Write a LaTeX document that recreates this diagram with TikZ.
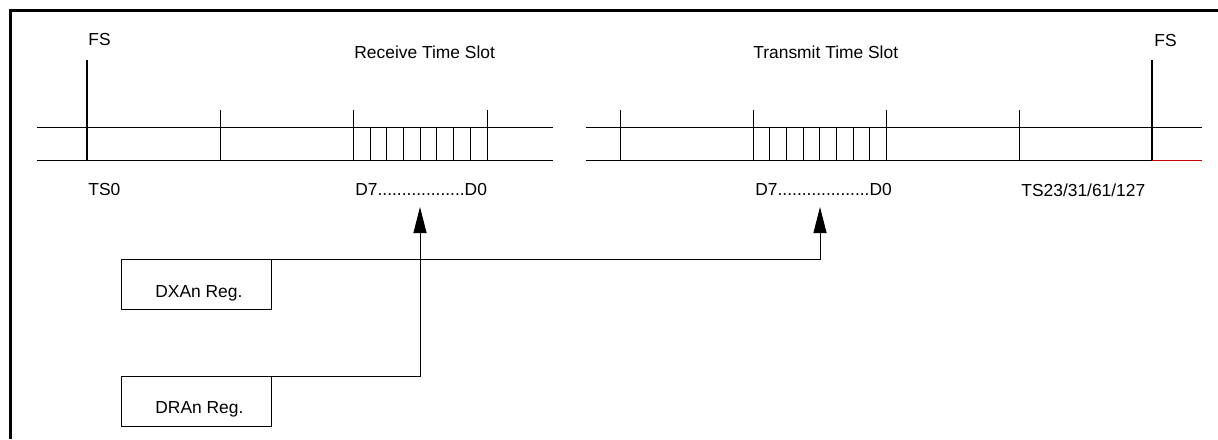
\documentclass[tikz,border=0pt]{standalone}
\usepackage{fontspec}
\setmainfont{Liberation Sans}
\usetikzlibrary{arrows.meta}
\begin{document}
\begin{tikzpicture}[x=0.5pt,y=-0.5pt,
  thin line/.style={line width=0.5pt},
  fsline/.style={line width=1pt},
  lbl/.style={inner sep=0pt,anchor=base west,font=\fontsize{8.7}{10}\selectfont},
  regbox/.style={draw,line width=0.5pt,minimum width=75pt,minimum height=25pt,inner sep=0pt,anchor=north west},
  arr/.style={line width=0.5pt,-{Triangle[width=6.5pt,length=13pt]}}]
\useasboundingbox (0,0) rectangle (1218,439);
% frame
\draw[line width=1.75pt] (10.5,439) -- (10.5,10.5) -- (1218,10.5);
% left timeline
\draw[thin line] (37,127) -- (553,127);
\draw[thin line] (37,160) -- (553,160);
\draw[fsline] (87,60) -- (87,160);
\draw[thin line] (220,110) -- (220,160);
\draw[thin line] (353,110) -- (353,160);
\draw[thin line] (487,110) -- (487,160);
\foreach \x in {370,386.7,403.3,420,436.7,453.3,470} \draw[thin line] (\x,127) -- (\x,160);
% right timeline
\draw[thin line] (586,127) -- (1202,127);
\draw[thin line] (586,160) -- (1152,160);
\draw[line width=0.5pt,red!80!black] (1152,160) -- (1202,160);
\draw[thin line] (620,110) -- (620,160);
\draw[thin line] (753,110) -- (753,160);
\draw[thin line] (886,110) -- (886,160);
\foreach \x in {769.6,786.3,803,819.6,836.3,853,869.6} \draw[thin line] (\x,127) -- (\x,160);
\draw[thin line] (1019,110) -- (1019,160);
\draw[fsline] (1152,60) -- (1152,160);
% labels
\node[lbl] (fs1) at (88,45) {FS};
\node[lbl] (fs2) at (1154,46) {FS};
\node[lbl] (rts) at (354,58.5) {Receive Time Slot};
\node[lbl] (tts) at (753,58.5) {Transmit Time Slot};
\node[lbl] (ts0) at (88,195) {TS0};
\node[lbl] (dr) at (355,195) {D7..................D0};
\node[lbl] (dt) at (755,195) {D7...................D0};
\node[lbl] (tsn) at (1021,196) {TS23/31/61/127};
% registers
\node[regbox] (dxa) at (120.7,259.3) {};
\node[regbox] (dra) at (120.7,376) {};
\node[lbl] (dxat) at (155,297) {DXAn Reg.};
\node[lbl] (drat) at (155,413.3) {DRAn Reg.};
\coordinate (tipR) at (420,207);
\coordinate (tipT) at (820,207);
\draw[arr] (dxa.north east) -| (tipT);
\draw[arr] (dra.north east) -| (tipR);
\end{tikzpicture}
\end{document}
